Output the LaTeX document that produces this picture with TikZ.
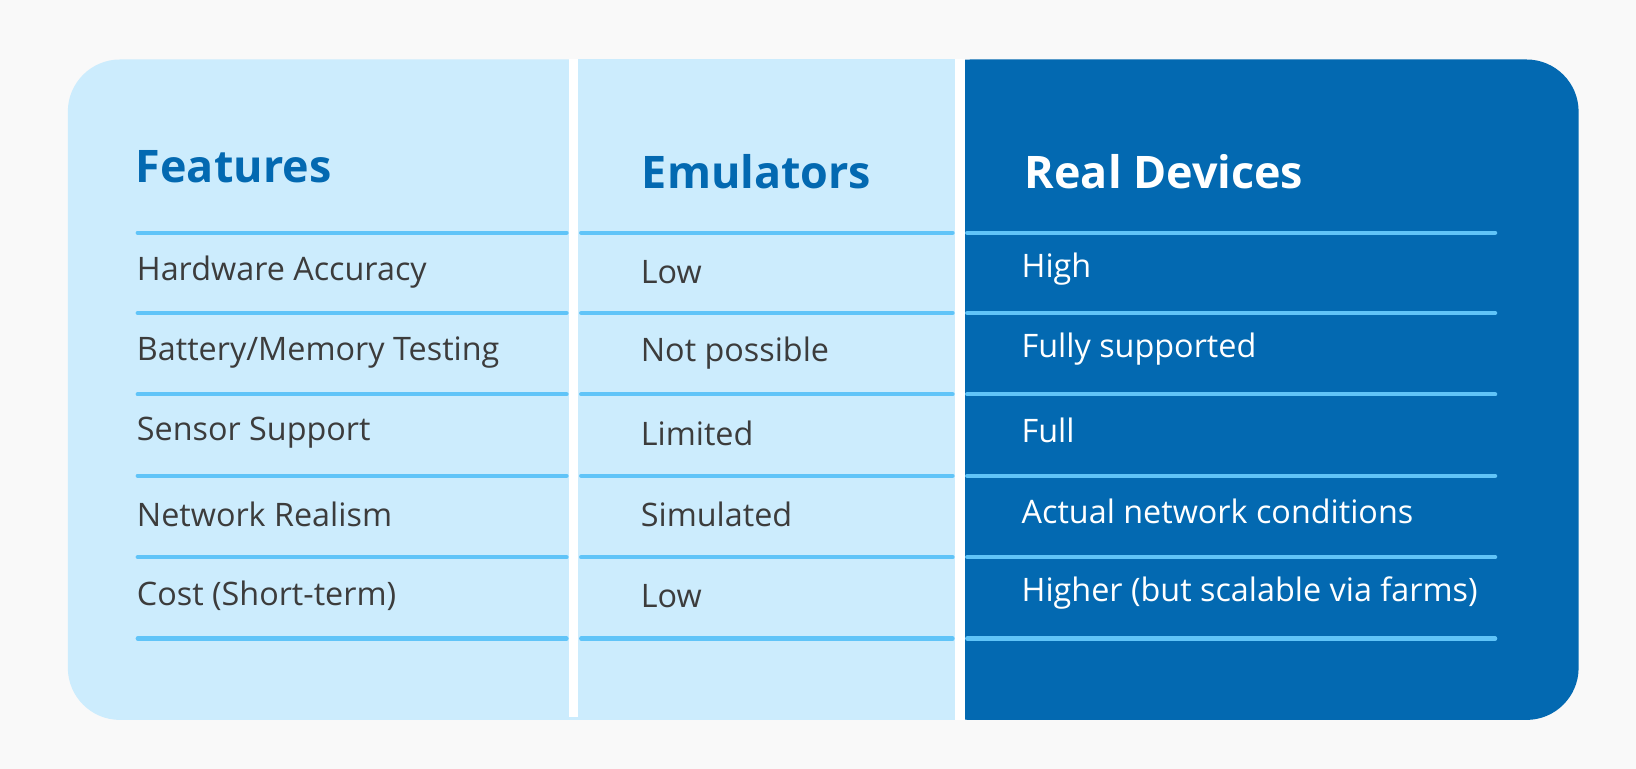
\documentclass[tikz,border=0pt]{standalone}
\usepackage{fontspec}
\setmainfont{Open Sans}
\definecolor{pagegray}{RGB}{249,249,249}
\definecolor{paleblue}{RGB}{204,236,253}
\definecolor{deepblue}{RGB}{3,105,177}
\definecolor{ruleblue}{RGB}{96,196,248}
\definecolor{textgray}{RGB}{60,60,60}
\begin{document}
\begin{tikzpicture}[x=1pt,y=-1pt,inner sep=0pt]
\tikzstyle{head}=[anchor=west, font=\fontsize{43}{46}\selectfont\bfseries]
\tikzstyle{cell}=[anchor=west, font=\fontsize{31}{34}\selectfont, text=textgray]
\tikzstyle{rule}=[ruleblue, line width=4pt, line cap=round]
\useasboundingbox[fill=pagegray] (0,0) rectangle (1568,737);
% panels
\fill[paleblue, rounded corners=50pt] (65,57) rectangle (600,690);
\fill[deepblue, rounded corners=50pt] (880,57) rectangle (1513,690);
\fill[paleblue] (552,57) rectangle (915,690);
\fill[white] (545,57) rectangle (554,687);
\fill[white] (915,57) rectangle (925,690);
% headers
\node[head, text=deepblue] (hfeat) at (130,160) {Features};
\node[head, text=deepblue] (hemu) at (615,165) {Emulators};
\node[head, text=white] (hreal) at (982,165) {Real Devices};
% rules
\foreach \y in {223,300,378,456,534,612} {
  \draw[rule] (132,\y) -- (543,\y);
  \draw[rule] (557,\y) -- (913,\y);
  \draw[rule] (927,\y) -- (1433,\y);
}
% rows
\foreach \y/\f/\e/\r [count=\i] in {
  261/Hardware Accuracy/Low/High,
  338/Battery\slash Memory Testing/Not possible/Fully supported,
  415/Sensor Support/Limited/Full,
  493/Network Realism/Simulated/Actual network conditions,
  571/Cost (Short-term)/Low/Higher (but scalable via farms)} {
  \node[cell] (feat\i) at (131,\y) {\f};
  \node[cell] (emu\i) at (614,\y) {\e};
  \node[cell, text=white] (real\i) at (979,\y-3) {\r};
}
\end{tikzpicture}
\end{document}
